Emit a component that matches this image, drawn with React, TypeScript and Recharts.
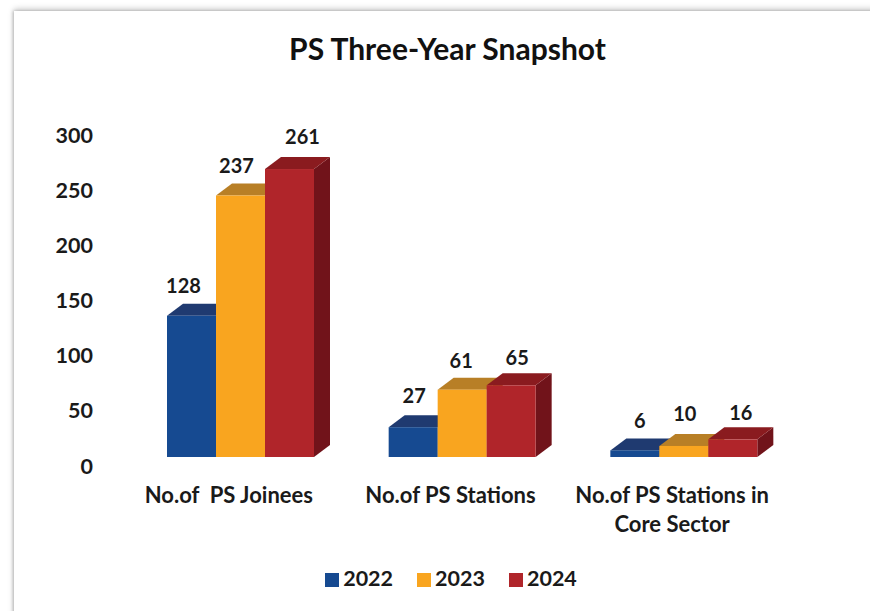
import { BarChart, Bar, XAxis, YAxis, Legend, LabelList } from 'recharts'

const categories = ['No.of  PS Joinees', 'No.of PS Stations', 'No.of PS Stations in\nCore Sector']
const values2022 = [128, 27, 6]
const values2023 = [237, 61, 10]
const values2024 = [261, 65, 16]
const yTicks = [0, 50, 100, 150, 200, 250, 300]

const chartData = categories.map((name, i) => ({
  name,
  y2022: values2022[i],
  y2023: values2023[i],
  y2024: values2024[i],
}))

const FONT = 'Lato, "Noto Sans", sans-serif'
const INK = '#1a1a1a'
const DEPTH_X = 16
const DEPTH_Y = 12

// the labels in the original sit off-centre because of the 3D depth
const nudge2022 = [[-8, 0], [1, -1], [5, 1]]
const nudge2023 = [[-4, 0], [-1, 1], [1, -2]]
const nudge2024 = [[13, -2], [6, 3], [8, 4]]

function bar3d(front: string, top: string, side: string) {
  return (props: any) => {
    const { x, y, width, height } = props
    const right = x + width
    const bottom = y + height
    return (
      <g>
        <polygon
          points={`${right},${y} ${right + DEPTH_X},${y - DEPTH_Y} ${right + DEPTH_X},${bottom - DEPTH_Y} ${right},${bottom}`}
          fill={side}
        />
        <polygon
          points={`${x},${y} ${x + DEPTH_X},${y - DEPTH_Y} ${right + DEPTH_X},${y - DEPTH_Y} ${right},${y}`}
          fill={top}
        />
        <rect x={x} y={y} width={width} height={height} fill={front} />
      </g>
    )
  }
}

function valueLabel(nudges: number[][]) {
  return (props: any) => {
    const { x, y, width, value, index } = props
    const [dx, dy] = nudges[index]
    return (
      <text
        x={x + width / 2 + dx}
        y={y - 23 + dy}
        textAnchor="middle"
        fill={INK}
        fontSize={20}
        fontWeight={700}
        fontFamily={FONT}
      >
        {value}
      </text>
    )
  }
}

function CategoryTick({ x, y, payload }: any) {
  const lines = String(payload.value).split('\n')
  return (
    <text x={x - 12} y={y} textAnchor="middle" fill={INK} fontSize={22} fontWeight={700} fontFamily={FONT} xmlSpace="preserve">
      {lines.map((line: string, i: number) => (
        <tspan key={i} x={x - 12} y={y + 38 + i * 29}>
          {line}
        </tspan>
      ))}
    </text>
  )
}

export default function App() {
  return (
    <div style={{ position: 'absolute', left: 0, top: 0, width: 870, height: 611, background: '#fff', overflow: 'hidden' }}>
      <div
        style={{
          position: 'absolute',
          left: 14,
          top: 11,
          width: 900,
          height: 640,
          background: '#fff',
          boxShadow: '0 -2px 6px rgba(0,0,0,0.22), -1px 0 3px rgba(0,0,0,0.2)',
        }}
      />
      <div
        style={{
          position: 'absolute',
          left: 0,
          top: 30,
          width: 895,
          textAlign: 'center',
          fontFamily: FONT,
          fontWeight: 700,
          fontSize: 30,
          lineHeight: '36px',
          color: '#111',
        }}
      >
        PS Three-Year Snapshot
      </div>
      <div style={{ position: 'absolute', left: 0, top: 0 }}>
        <BarChart
          width={870}
          height={611}
          data={chartData}
          margin={{ top: 126, right: 75, bottom: 28, left: 0 }}
          barSize={49}
          barGap={0}
        >
          <YAxis
            domain={[0, 300]}
            ticks={yTicks}
            width={130}
            axisLine={false}
            tickLine={false}
            tickSize={0}
            tickMargin={37}
            tick={{ fill: INK, fontSize: 21.5, fontWeight: 700, fontFamily: FONT, dy: 9 }}
          />
          <XAxis dataKey="name" axisLine={false} tickLine={false} height={100} interval={0} tick={<CategoryTick />} />
          <Legend
            verticalAlign="bottom"
            iconType="square"
            iconSize={14}
            wrapperStyle={{ left: 28, bottom: 20, width: 870, fontFamily: FONT, fontWeight: 700, fontSize: 21.5, color: INK }}
            formatter={(value: string) => <span style={{ color: INK, marginRight: 14 }}>{value}</span>}
          />
          <Bar dataKey="y2022" name="2022" fill="#164a91" isAnimationActive={false} shape={bar3d('#164a91', '#1f3a70', '#0f3264')}>
            <LabelList dataKey="y2022" content={valueLabel(nudge2022)} />
          </Bar>
          <Bar dataKey="y2023" name="2023" fill="#f9a51f" isAnimationActive={false} shape={bar3d('#f9a51f', '#b87f26', '#a87016')}>
            <LabelList dataKey="y2023" content={valueLabel(nudge2023)} />
          </Bar>
          <Bar dataKey="y2024" name="2024" fill="#b0252a" isAnimationActive={false} shape={bar3d('#b0252a', '#8a1b1f', '#71131a')}>
            <LabelList dataKey="y2024" content={valueLabel(nudge2024)} />
          </Bar>
        </BarChart>
      </div>
    </div>
  )
}
